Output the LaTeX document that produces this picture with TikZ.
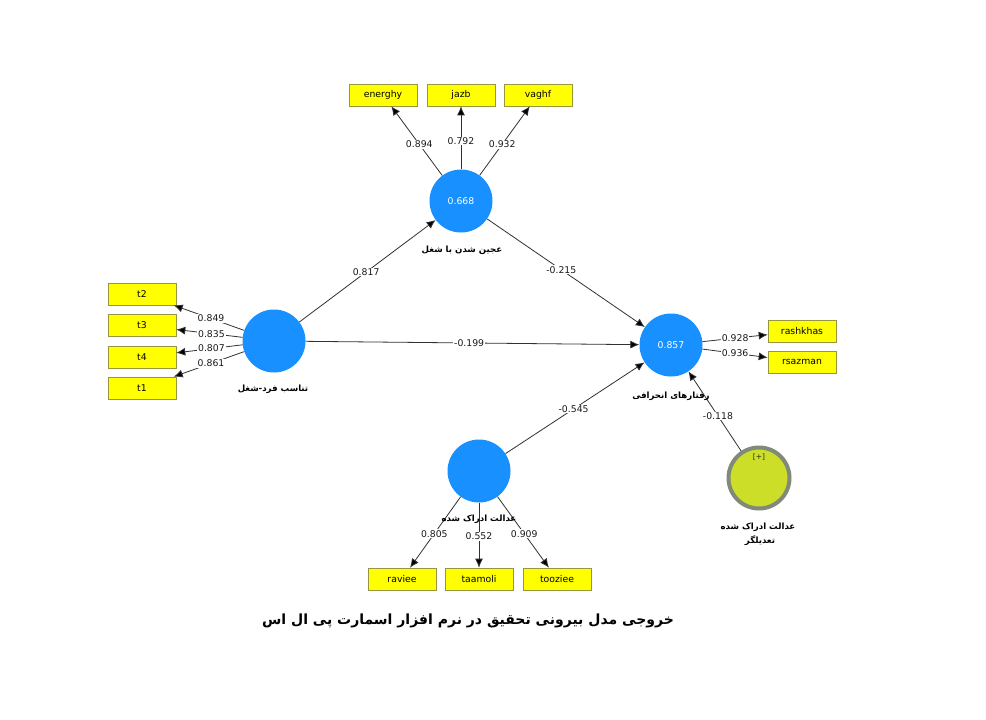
\documentclass[tikz,border=0pt]{standalone}
\usepackage{fontspec}
\setmainfont{DejaVu Sans}
\newfontfamily\fa[Script=Arabic]{DejaVu Sans}
\TeXXeTstate=1
\usetikzlibrary{arrows.meta}
\definecolor{lvblue}{RGB}{24,144,255}
\definecolor{boxyellow}{RGB}{255,255,0}
\definecolor{boxborder}{RGB}{150,150,60}
\definecolor{linegray}{RGB}{50,50,50}
\definecolor{modgreen}{RGB}{204,222,40}
\definecolor{modgray}{RGB}{128,138,120}
\begin{document}
\begin{tikzpicture}[x=1pt,y=-1pt,
  lv/.style={circle, fill=lvblue, minimum size=63pt, inner sep=0pt, text=white, font=\fontsize{9.3}{10}\selectfont},
  modlv/.style={circle, fill=modgreen, draw=modgray, line width=4pt, minimum size=61pt, inner sep=0pt},
  ind/.style={rectangle, fill=boxyellow, draw=boxborder, line width=0.6pt, minimum width=68pt, minimum height=22pt, inner sep=0pt, font=\fontsize{9.3}{10}\selectfont, text=black},
  lnk/.style={draw=linegray, line width=0.8pt, -{Latex[length=9pt,width=8pt,fill=black]}},
  wt/.style={fill=white, inner sep=0.8pt, font=\fontsize{9.3}{10}\selectfont, text=black!90},
  fal/.style={font=\fa\bfseries\fontsize{8.6}{10}\selectfont, inner sep=0pt, align=center}]
\fill[white] (0,0) rectangle (986,720);
\useasboundingbox (0,0) rectangle (986,720);

% latent variables
\node[lv] (job) at (461,201) {0.668};
\node[lv] (fit) at (274,341) {};
\node[lv] (dev) at (671,345) {0.857};
\node[lv] (just) at (479,471) {};
\node[modlv] (mod) at (759,478) {};
\node[font=\fontsize{7.5}{8}\selectfont, text=black!85, inner sep=0pt] (plus) at (759,457) {[+]};

% indicators
\node[ind] (energhy) at (383,95) {energhy};
\node[ind] (jazb) at (461,95) {jazb};
\node[ind] (vaghf) at (538,95) {vaghf};
\node[ind] (t2) at (142,294) {t2};
\node[ind] (t3) at (142,325.5) {t3};
\node[ind] (t4) at (142,357) {t4};
\node[ind] (t1) at (142,388) {t1};
\node[ind] (rashkhas) at (802,331) {rashkhas};
\node[ind] (rsazman) at (802,362) {rsazman};
\node[ind] (raviee) at (402,579) {raviee};
\node[ind] (taamoli) at (479,579) {taamoli};
\node[ind] (tooziee) at (557,579) {tooziee};

% outer loadings
\draw[lnk] (job) -- node[wt,pos=.45]{0.894} (energhy);
\draw[lnk] (job) -- node[wt,pos=.45]{0.792} (jazb);
\draw[lnk] (job) -- node[wt,pos=.45]{0.932} (vaghf);
\draw[lnk] (fit) -- node[wt,pos=.47]{0.849} (t2);
\draw[lnk] (fit) -- node[wt,pos=.47]{0.835} (t3);
\draw[lnk] (fit) -- node[wt,pos=.47]{0.807} (t4);
\draw[lnk] (fit) -- node[wt,pos=.47]{0.861} (t1);
\draw[lnk] (dev) -- node[wt,pos=.5]{0.928} (rashkhas);
\draw[lnk] (dev) -- node[wt,pos=.5]{0.936} (rsazman);
\draw[lnk] (just) -- node[wt,pos=.52]{0.805} (raviee);
\draw[lnk] (just) -- node[wt,pos=.52]{0.552} (taamoli);
\draw[lnk] (just) -- node[wt,pos=.52]{0.909} (tooziee);

% path coefficients
\draw[lnk] (fit) -- node[wt,pos=.49]{0.817} (job);
\draw[lnk] (job) -- node[wt,pos=.47]{-0.215} (dev);
\draw[lnk] (fit) -- node[wt,pos=.49]{-0.199} (dev);
\draw[lnk] (just) -- node[wt,pos=.49]{-0.545} (dev);
\draw[lnk] (mod) -- node[wt,pos=.44]{-0.118} (dev);

% construct names
\node[fal] (jobl) at (462,250) {\beginR عجین شدن با شغل\endR};
\node[fal] (fitl) at (273,389) {\beginR تناسب فرد-شغل\endR};
\node[fal] (devl) at (671,396) {\beginR رفتارهای انحرافی\endR};
\node[fal] (justl) at (479,519) {\beginR عدالت ادراک شده\endR};
\node[fal] (modl1) at (758,527) {\beginR عدالت ادراک شده\endR};
\node[fal] (modl2) at (760,541) {\beginR تعدیلگر\endR};

% caption
\node[font=\fa\bfseries\fontsize{14}{16}\selectfont, inner sep=0pt] (caption) at (468,621) {\beginR خروجی مدل بیرونی تحقیق در نرم افزار اسمارت پی ال اس\endR};
\end{tikzpicture}
\end{document}
